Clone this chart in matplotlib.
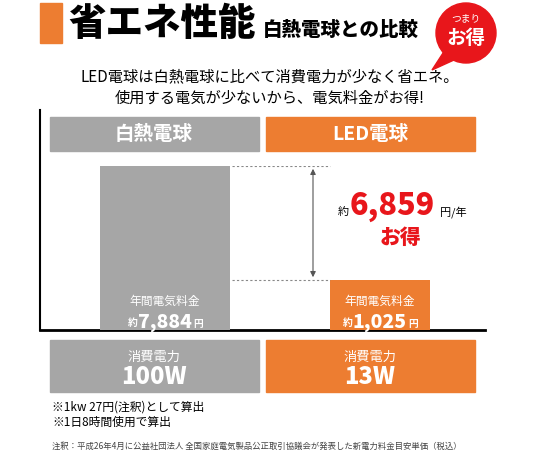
import matplotlib
matplotlib.use("Agg")
import matplotlib.pyplot as plt
from matplotlib.patches import Rectangle, Circle, Polygon

plt.rcParams['font.family'] = ['Noto Sans CJK JP', 'DejaVu Sans']

categories = ["白熱電球", "LED電球"]
annual_cost = [7884, 1025]
power_w = [100, 13]
saving = annual_cost[0] - annual_cost[1]
colors = ["#a6a6a6", "#ed7d31"]
red = "#e8161b"

fig = plt.figure(figsize=(5.4, 4.5), dpi=100)
ax = fig.add_axes([0, 0, 1, 1])
ax.set_xlim(0, 540)
ax.set_ylim(450, 0)
ax.axis("off")

# title
ax.add_patch(Rectangle((40, 3), 22, 40, color=colors[1]))
ax.text(68, 24, "省エネ性能", fontsize=27, fontweight="black", va="center")
ax.text(263, 30, "白熱電球との比較", fontsize=14, fontweight="black", va="center")
ax.add_patch(Polygon([[445, 50], [465, 55], [432, 70]], color=red))
ax.add_patch(Circle((466, 33), 30, color=red))
ax.text(466, 18, "つまり", fontsize=7, color="white", ha="center", va="center")
ax.text(466, 38, "お得", fontsize=14, fontweight="bold", color="white", ha="center", va="center")

ax.text(270, 77, "LED電球は白熱電球に比べて消費電力が少なく省エネ。", fontsize=11, ha="center", va="center")
ax.text(270, 98, "使用する電気が少ないから、電気料金がお得!", fontsize=11, ha="center", va="center")

# frame
ax.plot([40, 40], [110, 330], color="black", lw=1.5)
ax.plot([40, 485], [330, 330], color="black", lw=2)

# header boxes
for x0, name, c in zip([50, 266], categories, colors):
    ax.add_patch(Rectangle((x0, 117), 209, 34, color=c))
    ax.text(x0 + 104, 134, name, fontsize=14, fontweight="bold", color="white", ha="center", va="center")

# bars
bx = fig.add_axes([0, 120 / 450, 1, 164 / 450])
bx.axis("off")
base = -1983
bx.set_xlim(0, 540)
bx.set_ylim(base, annual_cost[0])
bx.bar([165, 380], [v - base for v in annual_cost], bottom=base, width=[130, 100], color=colors)
for x, v in zip([165, 380], annual_cost):
    bx.text(x, base + 1700, "年間電気料金", fontsize=8.5, color="white", ha="center", va="center")
    bx.text(x - 32, base + 400, "約", fontsize=7, color="white", ha="center", va="center", fontweight="bold")
    bx.text(x, base + 450, f"{v:,}", fontsize=14, color="white", ha="center", va="center", fontweight="black")
    bx.text(x + 33, base + 350, "円", fontsize=7, color="white", ha="center", va="center", fontweight="bold")
for v in annual_cost:
    bx.plot([232, 330], [v, v], color="#888888", lw=0.8, ls=(0, (2, 2)))
bx.annotate("", xy=(313, annual_cost[0]), xytext=(313, annual_cost[1]),
            arrowprops=dict(arrowstyle="<|-|>", color="#555555", lw=0.8, mutation_scale=8))

ax.text(338, 212, "約", fontsize=8, color="black", va="center")
ax.text(350, 207, f"{saving:,}", fontsize=22, fontweight="black", color=red, va="center")
ax.text(440, 212, "円/年", fontsize=8, color="black", va="center")
ax.text(400, 238, "お得", fontsize=15, fontweight="black", color=red, ha="center", va="center")

# power boxes
for x0, w, c in zip([50, 266], power_w, colors):
    ax.add_patch(Rectangle((x0, 340), 209, 52, color=c))
    ax.text(x0 + 104, 357, "消費電力", fontsize=9.5, color="white", ha="center", va="center")
    ax.text(x0 + 104, 377, f"{w}W", fontsize=17, fontweight="black", color="white", ha="center", va="center")

ax.text(52, 407, "※1kw 27円(注釈)として算出", fontsize=8.5, va="center")
ax.text(52, 422, "※1日8時間使用で算出", fontsize=8.5, va="center")
ax.text(52, 446, "注釈：平成26年4月に公益社団法人 全国家庭電気製品公正取引協議会が発表した新電力料金目安単価（税込）",
        fontsize=6, color="#444444", va="center")

fig.savefig("out.png", dpi=100)
